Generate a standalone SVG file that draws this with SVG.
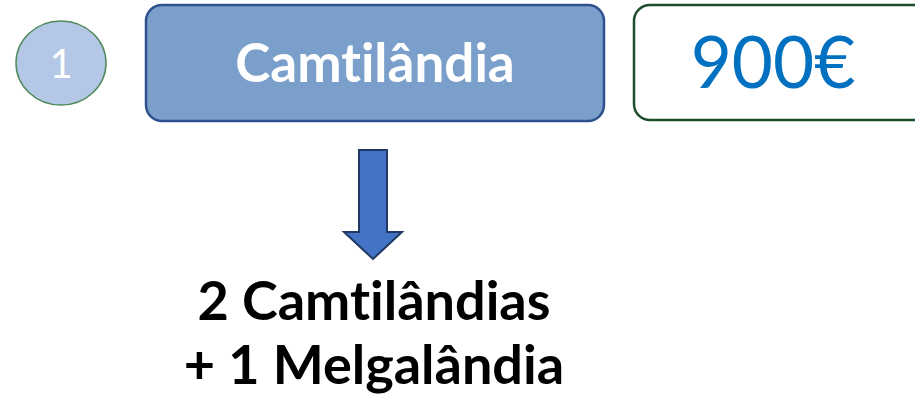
<svg xmlns="http://www.w3.org/2000/svg" width="915" height="396" viewBox="0 0 915 396">
<style>
text{font-family:Lato,"Open Sans","Liberation Sans",sans-serif;text-anchor:middle;font-variant-ligatures:none}
.b{font-weight:bold}
</style>
<rect width="915" height="396" fill="#fff"/>
<g id="step">
<ellipse cx="61" cy="63" rx="45" ry="42" fill="#B4C7E7" stroke="#4E8A5A" stroke-width="1.5"/>
<text x="61" y="78" font-size="40" fill="#fff">1</text>
</g>
<g id="camtilandia">
<rect x="146" y="5" width="458" height="116" rx="16" fill="#7A9FCB" stroke="#2F528F" stroke-width="2.5"/>
<text class="b" x="375" y="82" font-size="53" fill="#fff">Camtilândia</text>
</g>
<g id="price">
<rect x="634" y="5" width="300" height="115" rx="16" fill="#fff" stroke="#1E4D2B" stroke-width="2.5"/>
<text x="773" y="88" font-size="71" fill="#0070C0">900€</text>
</g>
<g id="connectors">
<polygon points="359,150 387,150 387,232 402,232 373,259 344,232 359,232" fill="#4472C4" stroke="#1F3864" stroke-width="2"/>
</g>
<g id="result">
<text class="b" x="374" y="320" font-size="54" fill="#000">2 Camtilândias</text>
<text class="b" x="374" y="384" font-size="54" fill="#000">+ 1 Melgalândia</text>
</g>
</svg>
